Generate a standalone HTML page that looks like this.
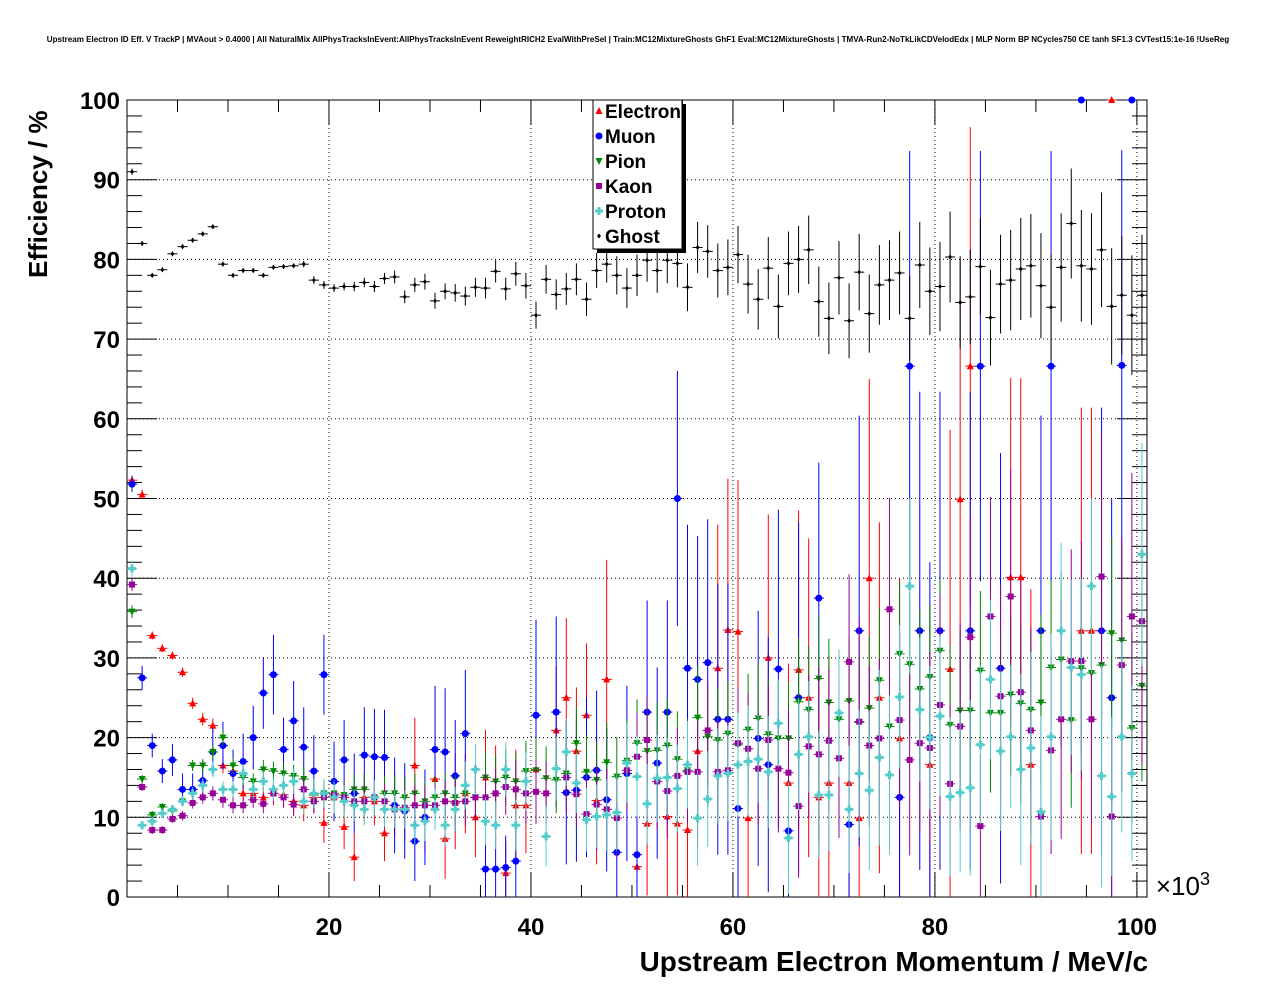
<!DOCTYPE html>
<html><head><meta charset="utf-8">
<style>
body{margin:0;background:#fff;}
svg{display:block;font-family:"Liberation Sans",sans-serif;}
</style></head>
<body>
<svg id="chart" width="1276" height="996" viewBox="0 0 1276 996">
<text x="638" y="42" text-anchor="middle" font-size="8.05" font-weight="bold">Upstream Electron ID Eff. V TrackP | MVAout &gt; 0.4000 | All NaturalMix AllPhysTracksInEvent:AllPhysTracksInEvent ReweightRICH2 EvalWithPreSel | Train:MC12MixtureGhosts GhF1 Eval:MC12MixtureGhosts | TMVA-Run2-NoTkLikCDVelodEdx | MLP Norm BP NCycles750 CE tanh SF1.3 CVTest15:1e-16 !UseReg</text>
<g id="grid"></g>
<rect x="127" y="100" width="1020" height="797" fill="none" stroke="#000" stroke-width="1"/>
<g id="axes"></g>
<g id="marks"></g>
<text x="1210" y="895" text-anchor="end" font-size="26">×10<tspan font-size="18" dy="-10">3</tspan></text>
<text x="1148" y="971" text-anchor="end" font-size="27.9" font-weight="bold">Upstream Electron Momentum / MeV/c</text>
<text transform="translate(47,278) rotate(-90)" text-anchor="start" font-size="26" font-weight="bold">Efficiency / %</text>
<g>
<rect x="597" y="104" width="89" height="149" fill="#000"/>
<rect x="593" y="100" width="89" height="149" fill="#fff" stroke="#000"/>
<g id="legend-items"></g>
</g>
</svg>
<script>
const xMin=0, xMax=101, yMin=0, yMax=100;
const xTicks=[20,40,60,80,100];
const yTicks=[0,10,20,30,40,50,60,70,80,90,100];
const seriesNames=["Electron","Muon","Pion","Kaon","Proton","Ghost"];
const N=null;
const electron=[52.3,50.5,32.8,31.2,30.3,28.2,24.3,22.3,21.5,16.5,15.8,13,13,12.5,13,12.8,12,11.5,12.5,9.3,12.5,8.8,5,12.5,12,8,11.5,11,16.5,10,14.8,7.3,12,13,10,15,13,3,11.5,11.5,
16,N,20.9,25.0,18.3,22.8,12.1,27.3,N,N,3.8,9.2,N,10.1,9.2,8.4,18.3,N,28.7,33.5,
33.3,9.9,N,30.0,N,14.3,28.5,25.0,12.5,14.3,N,14.3,9.9,40.0,25.0,N,19.9,N,N,16.6,
N,28.6,49.9,66.6,N,N,N,40.1,40.1,16.6,N,N,N,N,33.4,33.4,N,100,N,N,N];
const electronErr=[.6,.6,.5,.5,.5,.6,.7,.8,.9,1,1,1,1.2,1.3,1.5,1.6,1.8,2,2,2.5,2.5,2.8,3,3,3,3.5,4,4,6,4.5,5,5,6,5,5,6,6,4,7,6,
6,N,8,10,8,9,8,15,N,N,6,9,N,10,9,9,12,N,18,19,
19,12,N,18,N,15,20,20,14,16,N,16,12,25,22,N,20,N,N,20,
N,30,30,30,N,N,N,25,25,22,N,N,N,N,28,28,N,0,N,N,N];
const muon=[51.8,27.5,19,15.8,17.2,13.5,13.5,14.6,18.2,19,15.5,17,20,25.6,27.9,18.5,22.1,18.8,15.8,27.9,14.5,17.2,13,17.8,17.6,17.5,11.5,10.8,7,10,18.5,18.2,15.2,20.5,N,3.5,3.5,3.7,4.5,N,
22.8,N,23.2,13.1,13.4,15.0,15.9,12.2,5.6,15.5,5.3,23.2,16.8,23.2,50.0,28.7,27.3,29.4,22.3,22.3,
11.1,N,19.9,16.6,28.6,8.3,25.0,N,37.5,N,N,9.1,33.4,N,N,N,12.5,66.6,33.4,20.0,
33.4,N,N,33.4,66.6,N,28.7,N,N,N,33.4,66.6,N,N,100,N,33.4,25.0,66.7,100,N];
const muonErr=[1,1.5,1.5,1.5,2,2,2,2.5,3,3,3,3.5,4,4.5,5,4,5,5,4.5,5,5,5,5,6,6,6,6,6,5,6,8,8,7,8,N,4,4,4,5,N,
12,N,12,9,9,10,10,9,6,11,6,14,12,14,16,18,18,18,17,17,
12,N,16,16,20,10,22,N,17,N,N,12,27,N,N,N,15,27,30,22,
30,N,N,30,27,N,27,N,N,N,27,27,N,N,0,N,28,25,27,0,N];
const pion=[35.8,14.8,10.3,11.3,10.8,12,16.5,16.5,18.2,20,16.5,15,14.5,16,15.8,15.5,15.2,14.8,12.8,13,13,12.8,13.5,13.5,12.5,13,13,12.5,13,12,12.5,13,12.5,13,12.5,15,14.5,15,14.5,15.8,
15.9,14.9,14.7,15.5,19.3,15.7,14.7,16.9,15.1,17.1,19.3,18.3,18.4,19.0,17.3,15.9,22.5,20.1,19.7,20.5,
19.1,21.0,22.4,20.4,19.9,19.9,24.5,23.5,27.4,24.4,22.3,24.6,21.9,23.7,27.2,21.4,30.5,29.2,26.1,27.6,
30.9,21.6,23.4,23.4,28.4,23.1,23.1,25.4,24.3,23.5,24.4,28.8,29.8,22.2,28.7,28.1,29.1,33.1,32.2,21.2,26.5];
const pionErr=[.8,.5,.5,.5,.5,.6,.7,.8,.9,1,1,1,1,1.2,1.2,1.3,1.4,1.5,1.5,1.6,1.7,1.8,1.9,2,2,2.2,2.3,2.4,2.5,2.5,2.6,2.7,2.8,3,3,3.2,3.3,3.5,3.6,3.8,
4,4,4.2,4.5,4.5,4.6,4.7,5,5,5.2,5.5,5.5,6,6,6,6.5,6.5,6.5,6.5,6.5,
6.5,7,7,7,7,7,8,8,8,8,8,8,8.5,9,9,9,9,9,10,9,
9,10,10,10,10,10,10,10,10,10,11,11,11,11,11,11,11,12,12,12,12];
const kaon=[39.2,13.8,8.4,8.4,9.8,10.2,11.8,12.5,13,12.2,11.5,11.5,12.2,11.7,13,12.5,11.6,13.5,12,12.5,12.8,12.5,12,12,12.5,12,11,11.2,11.5,11.5,11.5,12,11.8,12,12.5,12.5,13,13.8,13.5,13,
13.2,13.0,N,15.0,12.9,10.4,11.6,11.0,9.9,15.9,17.6,19.7,14.5,13.3,15.2,15.7,15.7,20.9,15.7,15.9,
19.3,18.6,16.1,19.7,16.1,15.6,11.4,18.9,17.9,19.6,17.4,29.5,22.0,19.0,19.9,36.1,22.2,17.2,19.3,18.7,
24.1,14.2,21.4,32.6,8.9,35.2,25.2,37.7,25.7,20.9,10.1,18.4,22.3,29.6,29.6,22.3,40.2,10.1,29.1,35.2,34.6];
const kaonErr=[.8,.5,.5,.5,.5,.6,.7,.8,.9,1,1,1,1,1.2,1.2,1.3,1.4,1.5,1.5,1.6,1.7,1.8,1.9,2,2,2.2,2.3,2.4,2.5,2.5,2.6,2.7,2.8,3,3,3.2,3.3,3.5,3.6,3.8,
4,4,N,4.5,4,4.6,4.7,5,5,5.2,5.5,5.5,6,6,6,6.5,6.5,6.5,6.5,6.5,
7,7,7,7,8,8,9,9,11,9,10,11,13,10,10,14,11,12,11,12,
14,10,13,15,9,15,14,16,14,13,10,13,15,14,15,13,18,10,16,18,18];
const proton=[41.2,9,9.5,10.5,11,12,13,14,16,13.5,13.5,15.5,13.5,14.5,13.5,14,14.5,12,13,13,12.5,12,11.5,11,12.5,11,11,11,9,9.5,11,9,11,14,16,9.5,9,16,9,14.5,
N,7.6,16.1,18.2,14.3,9.7,10.1,10.3,10.6,16.8,15.1,11.7,14.9,15.0,13.6,16.6,9.9,12.3,15.2,15.5,
16.6,17.0,17.3,15.7,21.8,7.4,17.9,20.1,12.8,12.8,23.1,11.0,15.5,13.4,17.5,15.3,25.1,39.0,23.5,20.0,
22.7,12.6,13.1,13.7,19.1,27.3,18.3,20.1,16.0,18.7,10.7,20.1,33.4,28.8,27.9,39.0,15.2,12.6,20.1,15.5,43.0];
const protonErr=[1,.5,.5,.6,.6,.7,.8,.9,1,1,1,1.2,1.2,1.3,1.4,1.5,1.6,1.6,1.8,1.8,2,2,2,2,2.2,2.2,2.3,2.4,2.4,2.5,2.6,2.6,2.8,3,3.2,3,3,3.4,3.2,3.6,
N,3.8,4,4.2,3.8,4,4,4.5,4.8,5,5,5,5.5,5,5.5,5.5,6,6,6,6,
6.5,7,5.5,7,5.5,7,7,7,8,7,8,8,8,10,11,10,9,11,9,9,
10,10,10,11,10,10,10,9,12,12,12,13,11,11,12,11,14,10,12,11,14];
const ghost=[91,82,78,78.7,80.7,81.6,82.4,83.2,84.1,79.4,78,78.6,78.6,78,79,79.1,79.2,79.4,77.4,76.8,76.4,76.6,76.6,77.1,76.6,77.6,77.8,75.3,76.8,77.2,74.8,76,75.8,75.4,76.5,76.4,78.5,76.3,78.2,76.7,73,77.5,75.6,76.3,77.5,75,78.6,79.4,78,76.4,78,79.9,78.6,79.9,79.5,76.5,81.5,81,78.6,79,80.6,76.9,75,78.9,74.1,79.5,80,81.2,74.7,72.6,77.7,72.3,78.4,73.2,76.8,77.4,78.3,72.6,79.3,76,76.6,80.3,74.6,75.3,79.1,72.7,76.9,77.4,78.8,79.2,76.7,74,79,84.5,79.2,78.8,81.2,74.1,75.5,73,75.5];
const ghostErr=[.4,.3,.3,.3,.3,.3,.3,.3,.3,.3,.3,.3,.3,.3,.3,.3,.3,.4,.5,.5,.5,.5,.6,.6,.7,.7,.8,.8,.9,1,1,1,1.1,1.2,1.2,1.3,1.4,1.4,1.5,1.6,1.7,1.8,1.9,2,2,2.1,2.2,2.3,2.4,2.5,2.6,2.7,2.8,2.9,3,3,3.2,3.3,3.4,3.5,3.6,3.7,3.8,3.9,4,4,4.2,4.3,4.4,4.5,4.6,4.7,4.8,4.9,5,5,5.2,5.3,5.4,5.5,5.6,5.7,5.8,5.9,6,6,6.2,6.3,6.4,6.5,6.6,6.7,6.8,6.9,7,7,7.2,7.3,7.4,7.5,7.6];

const PL=127,PR=1147,PT=100,PB=897;
function xs(v){return PL+(v-xMin)/(xMax-xMin)*(PR-PL);}
function ys(v){return PB-(v-yMin)/(yMax-yMin)*(PB-PT);}
const NS="http://www.w3.org/2000/svg";
function mk(tag,attrs,parent){const e=document.createElementNS(NS,tag);for(const k in attrs)e.setAttribute(k,attrs[k]);parent.appendChild(e);return e;}
const grid=document.getElementById('grid'),axes=document.getElementById('axes'),marks=document.getElementById('marks');
xTicks.forEach(t=>{
  const gl=mk('line',{x1:xs(t),x2:xs(t),y1:PT,y2:PB,stroke:'#000','stroke-dasharray':'1,3','stroke-width':1},grid);
  
  
  const tl=mk('text',{x:xs(t),y:935,'text-anchor':'middle','font-size':24,'font-weight':'bold'},axes);
  tl.textContent=t;
  
  
});
for(let v=0;v<=100;v+=5){const len=(v%20===0)?25:12;
  mk('line',{x1:xs(v),x2:xs(v),y1:PB,y2:PB-len,stroke:'#000'},axes);
  mk('line',{x1:xs(v),x2:xs(v),y1:PT,y2:PT+len,stroke:'#000'},axes);}
yTicks.forEach(t=>{
  if(t>0&&t<100){const gl=mk('line',{x1:PL,x2:PR,y1:ys(t),y2:ys(t),stroke:'#000','stroke-dasharray':'1,3','stroke-width':1},grid);
  
  }
  const tl=mk('text',{x:120,y:ys(t)+9,'text-anchor':'end','font-size':24,'font-weight':'bold'},axes);
  tl.textContent=t;
  
  
});
for(let v=0;v<=100;v+=2){const len=(v%10===0)?30:15;
  mk('line',{x1:PL,x2:PL+len,y1:ys(v),y2:ys(v),stroke:'#000'},axes);
  mk('line',{x1:PR,x2:PR-len,y1:ys(v),y2:ys(v),stroke:'#000'},axes);}

const colors=['#ff0000','#0000ff','#008800','#990099','#55cccc','#000000'];
const shapes=['tri','circ','tridown','sq','plus','diam'];
function marker(shape,cx,cy,col,g,s){
  s=s||1;
  if(shape==='tri')return mk('polygon',{points:`${cx},${cy-4*s} ${cx-3.5*s},${cy+3*s} ${cx+3.5*s},${cy+3*s}`,fill:col},g);
  if(shape==='tridown')return mk('polygon',{points:`${cx},${cy+4*s} ${cx-3.5*s},${cy-3*s} ${cx+3.5*s},${cy-3*s}`,fill:col},g);
  if(shape==='circ')return mk('circle',{cx:cx,cy:cy,r:3.5*s,fill:col},g);
  if(shape==='sq')return mk('rect',{x:cx-3*s,y:cy-3*s,width:6*s,height:6*s,fill:col},g);
  if(shape==='plus')return mk('path',{d:`M${cx-1.5*s},${cy-4*s}h${3*s}v${2.5*s}h${2.5*s}v${3*s}h${-2.5*s}v${2.5*s}h${-3*s}v${-2.5*s}h${-2.5*s}v${-3*s}h${2.5*s}z`,fill:col},g);
  return mk('polygon',{points:`${cx},${cy-2.5*s} ${cx+2*s},${cy} ${cx},${cy+2.5*s} ${cx-2*s},${cy}`,fill:col},g);
}
const vals=[electron,muon,pion,kaon,proton,ghost];
const errs=[electronErr,muonErr,pionErr,kaonErr,protonErr,ghostErr];
vals.forEach((arr,si)=>{
  const g=mk('g',{},marks);
  
  
  arr.forEach((v,i)=>{
    if(v===null||v===undefined)return;
    const cx=xs(i+0.5),cy=ys(v),e=errs[si][i]||0;
    const lo=Math.max(0,v-e),hi=Math.min(100,v+e);
    mk('line',{x1:cx,x2:cx,y1:ys(lo),y2:ys(hi),stroke:colors[si],'stroke-width':1},g);
    mk('line',{x1:xs(i),x2:xs(i+1),y1:cy,y2:cy,stroke:colors[si],'stroke-width':1},g);
    const m=marker(shapes[si],cx,cy,colors[si],g);
    
    
  });
});
const li=document.getElementById('legend-items');
seriesNames.forEach((n,i)=>{
  const y=111+i*25;
  const m=marker(shapes[i],599,y,colors[i],li);
  
  
  const t=mk('text',{x:605,y:y+7,'font-size':19,'font-weight':'bold'},li);
  t.textContent=n;
  
  
});
</script>
</body></html>
